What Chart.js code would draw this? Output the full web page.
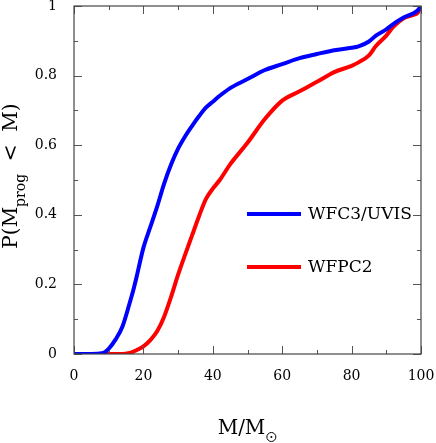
<!DOCTYPE html>
<html>
<head>
<meta charset="utf-8">
<script src="https://cdn.jsdelivr.net/npm/chart.js@4"></script>
<style>
  html, body { margin: 0; padding: 0; background: #fff; }
  #grafico { display: block; }
</style>
</head>
<body>
<canvas id="grafico" width="436" height="443"></canvas>
<script>
// progenitor mass grid (M / Msun)
const masses = [0, 5, 8, 9, 10, 12, 14, 16, 17, 18, 20, 22, 24, 26, 28, 30, 32, 34, 36, 38, 40, 42, 45, 50, 55, 60, 65, 70, 75, 80, 82, 85, 87, 90, 92, 95, 98, 99, 100]

// cumulative probability
const wfc3 = [0, 0, 0.002, 0.006, 0.015, 0.042, 0.08, 0.145, 0.18, 0.22, 0.305, 0.365, 0.425, 0.49, 0.545, 0.59, 0.625, 0.655, 0.683, 0.708, 0.725, 0.742, 0.764, 0.79, 0.816, 0.833, 0.85, 0.862, 0.873, 0.88, 0.884, 0.898, 0.915, 0.933, 0.948, 0.967, 0.98, 0.987, 1]
const wfpc2 = [0, 0, 0, 0, 0, 0, 0, 0.003, 0.006, 0.011, 0.022, 0.04, 0.066, 0.108, 0.165, 0.228, 0.285, 0.34, 0.395, 0.445, 0.475, 0.5, 0.545, 0.607, 0.675, 0.728, 0.755, 0.782, 0.81, 0.828, 0.838, 0.858, 0.885, 0.915, 0.94, 0.965, 0.975, 0.98, 1]

const xTicks = [0, 20, 40, 60, 80, 100]
const yTicks = [0, 0.2, 0.4, 0.6, 0.8, 1]
const seriesNames = ['WFC3/UVIS', 'WFPC2']

const serif = 'DejaVu Serif'

Chart.defaults.font.family = serif
Chart.defaults.color = '#000'

let ctx = document.getElementById('grafico')

// frame, inward ticks on all sides, legend and axis titles
const decor = {
  id: 'decor',
  afterDraw(chart) {
    const c = chart.ctx
    const a = chart.chartArea
    const xs = chart.scales.x
    const ys = chart.scales.y
    c.save()

    // ticks
    c.strokeStyle = '#555'
    c.lineWidth = 1
    c.beginPath()
    for (let v = 0; v <= 100; v += 10) {
      const px = Math.round(xs.getPixelForValue(v)) + 0.5
      const len = v % 20 === 0 ? 8 : 4
      c.moveTo(px, a.bottom); c.lineTo(px, a.bottom - len)
      c.moveTo(px, a.top); c.lineTo(px, a.top + len)
    }
    for (let i = 0; i <= 10; i++) {
      const py = Math.round(ys.getPixelForValue(i / 10)) + 0.5
      const len = i % 2 === 0 ? 8 : 4
      c.moveTo(a.left, py); c.lineTo(a.left + len, py)
      c.moveTo(a.right, py); c.lineTo(a.right - len, py)
    }
    c.stroke()

    // frame
    c.strokeStyle = '#444'
    c.lineWidth = 1.2
    c.strokeRect(a.left, a.top, a.right - a.left, a.bottom - a.top)

    // legend
    const lx0 = a.left + 173, lx1 = a.left + 227
    const rows = [214, 267]
    c.font = '17px ' + serif
    c.textBaseline = 'middle'
    c.textAlign = 'left'
    chart.data.datasets.forEach((ds, i) => {
      c.strokeStyle = ds.borderColor
      c.lineWidth = 4
      c.beginPath()
      c.moveTo(lx0, rows[i]); c.lineTo(lx1, rows[i])
      c.stroke()
      c.fillStyle = '#000'
      c.fillText(ds.label, lx1 + 7, rows[i] + 1)
    })

    // x title: M/M_sun
    c.fillStyle = '#000'
    c.strokeStyle = '#000'
    c.textBaseline = 'alphabetic'
    c.font = '20px ' + serif
    const main = 'M/M'
    const w = c.measureText(main).width
    const cx = (a.left + a.right) / 2
    const x0 = cx - (w + 12) / 2
    c.fillText(main, x0, 434)
    const sx = x0 + w + 6, sy = 437
    c.lineWidth = 1
    c.beginPath(); c.arc(sx, sy, 4.5, 0, Math.PI * 2); c.stroke()
    c.beginPath(); c.arc(sx, sy, 1, 0, Math.PI * 2); c.fill()

    // y title: P(M_prog < M)
    c.translate(17, 176)
    c.rotate(-Math.PI / 2)
    const parts = [['P(M', 20, 0], ['prog', 14, 8], ['  <  M)', 20, 0]]
    let tw = 0
    parts.forEach(p => { c.font = p[1] + 'px ' + serif; tw += c.measureText(p[0]).width })
    let tx = -tw / 2
    parts.forEach(p => {
      c.font = p[1] + 'px ' + serif
      c.fillText(p[0], tx, p[2])
      tx += c.measureText(p[0]).width
    })
    c.restore()
  }
}

const data = {
  labels: masses,
  datasets: [{
    label: seriesNames[0],
    data: wfc3,
    borderColor: '#0000ff',
    backgroundColor: '#0000ff',
    borderWidth: 4,
    pointRadius: 0,
    cubicInterpolationMode: 'monotone',
    fill: false
  }, {
    label: seriesNames[1],
    data: wfpc2,
    borderColor: '#ff0000',
    backgroundColor: '#ff0000',
    borderWidth: 4,
    pointRadius: 0,
    cubicInterpolationMode: 'monotone',
    fill: false
  }]
}

const config = {
  type: 'line',
  data,
  options: {
    responsive: false,
    animation: false,
    devicePixelRatio: 1,
    layout: { padding: { top: 6, right: 15, left: 0, bottom: 0 } },
    plugins: { legend: { display: false }, tooltip: { enabled: false } },
    scales: {
      x: {
        type: 'linear',
        min: 0,
        max: 100,
        afterBuildTicks: s => { s.ticks = xTicks.map(v => ({ value: v })) },
        afterFit: s => { s.height = 89; s.paddingLeft = 0; s.paddingRight = 0 },
        grid: { display: false },
        border: { display: false },
        ticks: { font: { size: 14 }, color: '#000', padding: 6, maxRotation: 0, callback: v => String(v) }
      },
      y: {
        min: 0,
        max: 1,
        afterBuildTicks: s => { s.ticks = yTicks.map(v => ({ value: v })) },
        afterFit: s => { s.width = 74; s.paddingTop = 0; s.paddingBottom = 0 },
        grid: { display: false },
        border: { display: false },
        ticks: { font: { size: 14 }, color: '#000', padding: 9, callback: v => String(v) }
      }
    }
  },
  plugins: [decor]
}

const graph = new Chart(ctx, config)
</script>
</body>
</html>
